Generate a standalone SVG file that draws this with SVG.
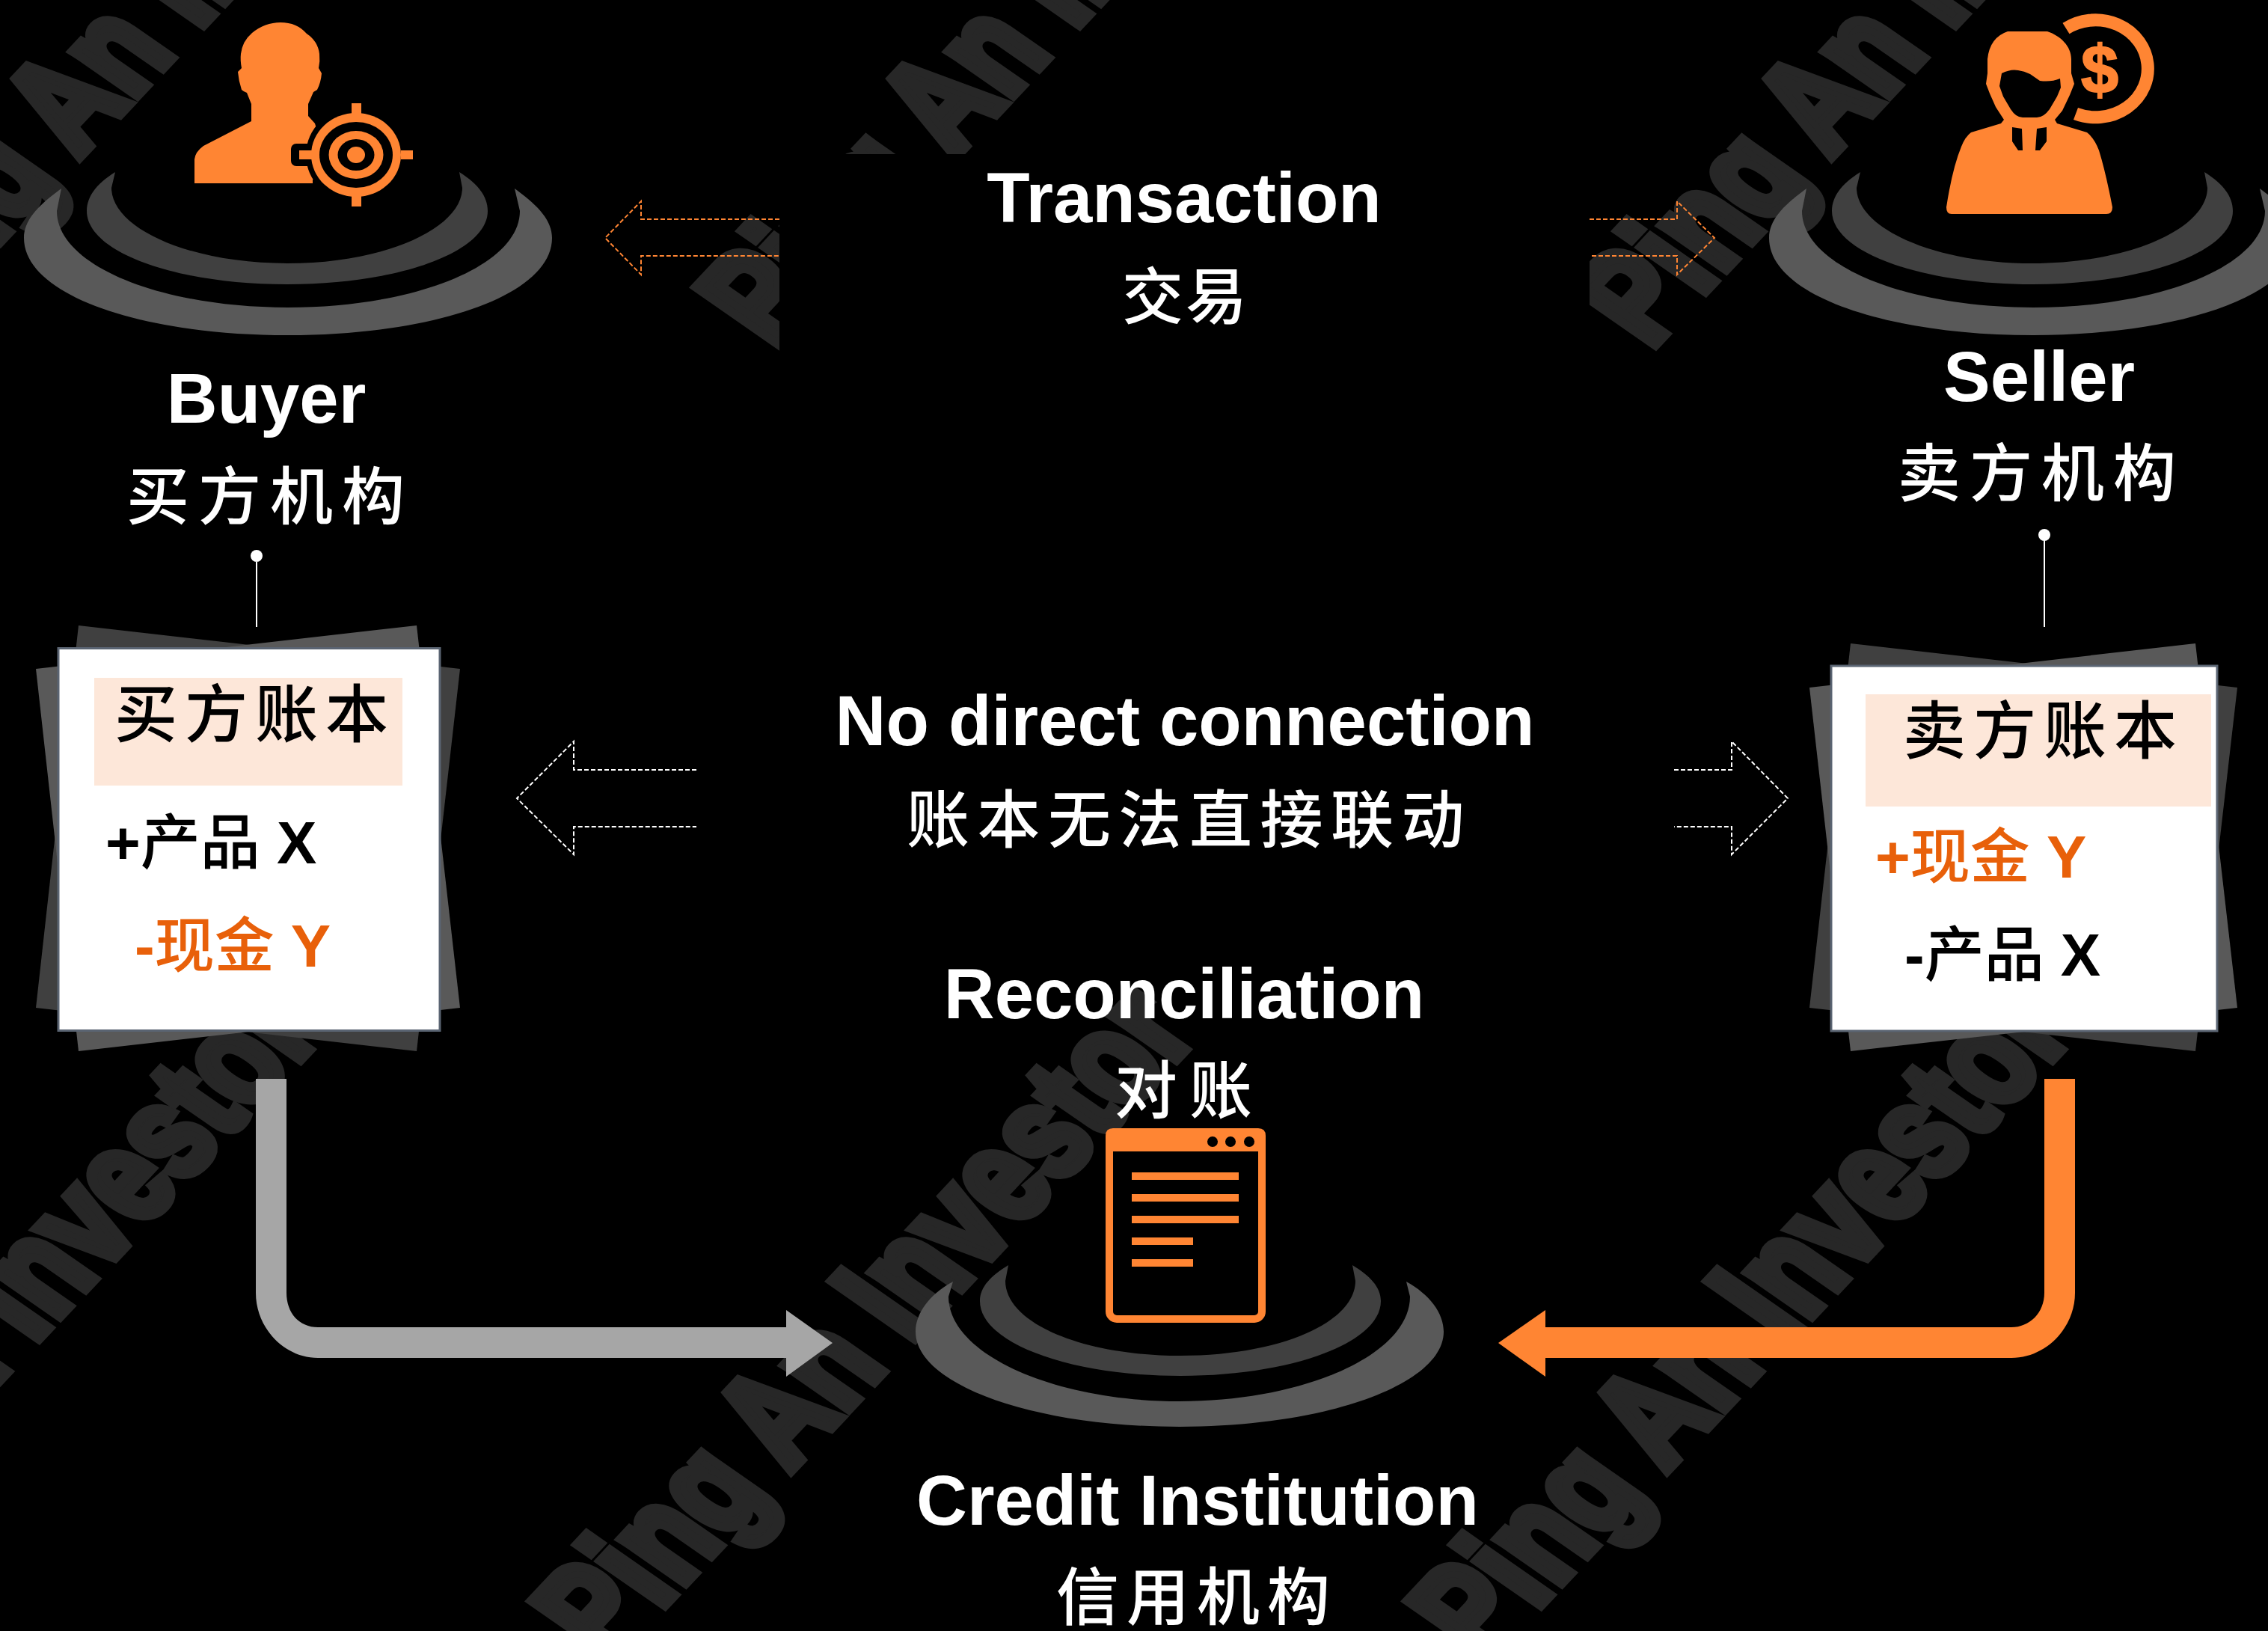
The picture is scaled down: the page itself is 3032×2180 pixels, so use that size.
<svg xmlns="http://www.w3.org/2000/svg" width="3032" height="2180" viewBox="0 0 3032 2180">
<style>
.wm{font:bold 100px "Liberation Sans",sans-serif;fill:#272727;stroke:#272727;stroke-width:8px}
.h{font:bold 94px "Liberation Sans",sans-serif;fill:#fff;text-anchor:middle}
.cn{font-family:"Noto Sans CJK SC",sans-serif;font-size:84px;font-weight:500;fill:#fff}
.led{font-family:"Liberation Sans","Noto Sans CJK SC",sans-serif;font-size:80px;font-weight:bold}
.led tspan{font-family:"Noto Sans CJK SC",sans-serif;font-weight:500}
.k{fill:#000}.o{fill:#e8600a}.ic{fill:#ff8533}.bk{fill:#000}
.r1{fill:#595959}.r2{fill:#404040}
.sheet{stroke:#5a6472;stroke-width:3px;fill:#fff}.pink{fill:#fde7d9}
.dw{fill:none;stroke:#fff;stroke-width:2px;stroke-dasharray:6 3}
.do{fill:none;stroke:#ff8533;stroke-width:2px;stroke-dasharray:6 3}
.pin{stroke:#fff;stroke-width:2px;fill:none}
</style>
<defs>
<g id="rings">
<path class="r1" d="M82,252C50,275 32,295 32,318C32,395 190,448 385,448C580,448 738,395 738,318C738,295 720,275 688,252L695,282C695,355 555,411 385,411C215,411 76,355 76,282Z"/>
<path class="r2" d="M154,230C130,245 116,262 116,282C116,337 235,380 384,380C533,380 652,337 652,282C652,262 638,245 614,230L618,251C618,305 515,352 384,352C253,352 149,305 149,251Z"/>
</g>
</defs>
<rect width="3032" height="2180" fill="#000"/>
<g id="watermark">
<text class="wm" transform="matrix(0.998 -1.064 1.59 1.106 -137 468)">Ping An Investor</text>
<text class="wm" transform="matrix(0.998 -1.064 1.59 1.106 1034 468)">Ping An Investor</text>
<text class="wm" transform="matrix(0.998 -1.064 1.59 1.106 2205 468)">Ping An Investor</text>
<text class="wm" transform="matrix(0.998 -1.064 1.59 1.106 -357 2224)">Ping An Investor</text>
<text class="wm" transform="matrix(0.998 -1.064 1.59 1.106 814 2224)">Ping An Investor</text>
<text class="wm" transform="matrix(0.998 -1.064 1.59 1.106 1985 2224)">Ping An Investor</text>
<rect x="1042" y="206" width="1083" height="1048" fill="#000"/>
</g>
<g id="connectors">
<path class="do" d="M1042,293H857V269L809,318L857,367V342H1042"/>
<path class="do" d="M2125,293H2242V269L2292,318L2242,367V342H2125"/>
<path class="dw" d="M931,1029H767V991L691,1067L767,1142V1105H931"/>
<path class="dw" d="M2238,1029H2315V991L2390,1067L2315,1142V1105H2238"/>
<path class="pin" d="M343,751V838"/><circle cx="343" cy="743" r="8" fill="#fff"/>
<path class="pin" d="M2733,722V838"/><circle cx="2733" cy="715" r="8" fill="#fff"/>
<path fill="#a6a6a6" d="M342,1442V1728C342,1775 380,1815 425,1815H1051V1840L1113,1795L1051,1751V1774H425C400,1774 383,1755 383,1728V1442Z"/>
<path fill="#ff8533" d="M2774,1442V1728C2774,1775 2735,1815 2689,1815H2066V1840L2003,1795L2066,1751V1774H2689C2713,1774 2733,1755 2733,1728V1442Z"/>
</g>
<g id="buyer">
<use href="#rings"/>
<path class="ic" d="M260,245V213Q261,203 272,195L336,162V139L330,124Q325,122 323,120Q319,108 318,96L323,91Q321,80 322,72Q324,55 337,44Q354,30 375,30Q397,30 410,45Q425,55 427,72Q428,82 426,91L430,98Q429,110 424,120L419,123L412,139V155L421,165L445,245Z"/>
<ellipse class="bk" cx="476" cy="207" rx="67" ry="64"/>
<rect class="bk" x="389" y="192" width="30" height="30" rx="7"/>
<rect class="bk" x="418" y="240" width="30" height="10"/>
<ellipse class="ic" cx="476" cy="207" rx="60" ry="56"/>
<ellipse class="bk" cx="476" cy="207" rx="49" ry="44"/>
<ellipse class="ic" cx="476" cy="207" rx="36.5" ry="32"/>
<ellipse class="bk" cx="476" cy="207" rx="24.5" ry="21"/>
<ellipse class="ic" cx="476" cy="207" rx="12" ry="11"/>
<path class="ic" d="M470,138h13v14h-13zM470,262h13v14h-13zM400,201h17v12h-17zM536,201h16v12h-16z"/>
<text class="h" x="356" y="565">Buyer</text>
<text class="cn" x="169" y="694" letter-spacing="12">买方机构</text>
</g>
<g id="seller">
<use href="#rings" transform="translate(2333 0)"/>
<path class="ic" d="M2684,42H2737C2755,48 2769,62 2769,79V98L2773,112L2767,127L2757,148L2747,160L2750,165L2790,177Q2800,185 2806,201Q2815,230 2824,277Q2824,286 2816,286H2609Q2602,286 2602,277Q2610,225 2622,196Q2627,183 2635,177L2675,165L2679,160L2668,143L2660,125L2655,112L2657,98V79Q2660,50 2684,42Z"/>
<path class="bk" d="M2676,98Q2688,92 2698,94Q2706,95 2714,99L2727,108Q2742,110 2754,105L2755,117L2750,129L2740,146Q2732,157 2723,157H2704Q2695,157 2688,146L2678,129L2673,115Z"/>
<path class="bk" d="M2690,170L2703,172L2704,201H2698L2690,189ZM2736,170L2723,172L2721,201H2727L2736,189Z"/>
<path d="M2762,38A70,65 0 1 1 2775,152" fill="none" stroke="#ff8533" stroke-width="17"/>
<text x="2807" y="124" style="font:bold 90px 'Liberation Sans',sans-serif;fill:#ff8533;stroke:#ff8533;stroke-width:2px;text-anchor:middle">$</text>
<text class="h" x="2726" y="536">Seller</text>
<text class="cn" x="2537" y="663" letter-spacing="12">卖方机构</text>
</g>
<g id="buyer-ledger">
<polygon class="r2" points="105,836 615,894 557,1405 48,1347"/>
<polygon class="r1" points="557,836 48,894 105,1405 615,1347"/>
<rect class="sheet" x="78" y="866.5" width="510" height="511"/>
<rect class="pink" x="126" y="906" width="412" height="144"/>
<text class="cn" x="153" y="985" letter-spacing="10" style="fill:#000">买方账本</text>
<text class="led k" x="141" y="1154">+<tspan>产品</tspan> X</text>
<text class="led o" x="180" y="1292">-<tspan>现金</tspan> Y</text>
</g>
<g id="seller-ledger">
<polygon class="r2" points="2474,860 2991,919 2935,1405 2419,1347"/>
<polygon class="r1" points="2935,860 2419,919 2474,1405 2991,1347"/>
<rect class="sheet" x="2448" y="890" width="516" height="488"/>
<rect class="pink" x="2494" y="928" width="462" height="150"/>
<text class="cn" x="2544" y="1007" letter-spacing="10" style="fill:#000">卖方账本</text>
<text class="led o" x="2507" y="1173">+<tspan>现金</tspan> Y</text>
<text class="led k" x="2546" y="1304">-<tspan>产品</tspan> X</text>
</g>
<g id="transaction">
<text class="h" x="1583" y="297">Transaction</text>
<text class="cn" x="1500" y="426" style="font-size:82px" letter-spacing="3">交易</text>
</g>
<g id="no-direct-connection">
<text class="h" x="1584" y="996">No direct connection</text>
<text class="cn" x="1212" y="1126" letter-spacing="10.5">账本无法直接联动</text>
</g>
<g id="reconciliation">
<text class="h" x="1583" y="1361">Reconciliation</text>
<text class="cn" x="1490" y="1488" letter-spacing="16">对账</text>
</g>
<g id="credit">
<path class="r1" d="M1274,1713C1243,1730 1224,1755 1224,1780C1224,1850 1380,1907 1577,1907C1774,1907 1930,1850 1930,1780C1930,1755 1911,1730 1880,1713L1885,1733C1885,1810 1745,1873 1577,1873C1409,1873 1268,1810 1268,1733Z"/>
<path class="r2" d="M1348,1691C1325,1705 1310,1720 1310,1739C1310,1795 1430,1839 1578,1839C1726,1839 1846,1795 1846,1739C1846,1720 1831,1705 1808,1691L1812,1712C1812,1768 1710,1812 1578,1812C1446,1812 1344,1768 1344,1712Z"/>
<rect x="1483" y="1513" width="204" height="250" rx="10" fill="#000" stroke="#ff8533" stroke-width="10"/>
<path class="ic" d="M1488,1508H1682Q1692,1508 1692,1518V1539H1478V1518Q1478,1508 1488,1508Z"/>
<circle class="bk" cx="1621" cy="1526" r="7"/><circle class="bk" cx="1645" cy="1526" r="7"/><circle class="bk" cx="1670" cy="1526" r="7"/>
<path class="ic" d="M1513,1567h143v10h-143zM1513,1596h143v10h-143zM1513,1625h143v10h-143zM1513,1654h82v10h-82zM1513,1683h82v10h-82z"/>
<text class="h" x="1601" y="2038">Credit Institution</text>
<text class="cn" x="1412" y="2165" letter-spacing="10">信用机构</text>
</g>
</svg>
